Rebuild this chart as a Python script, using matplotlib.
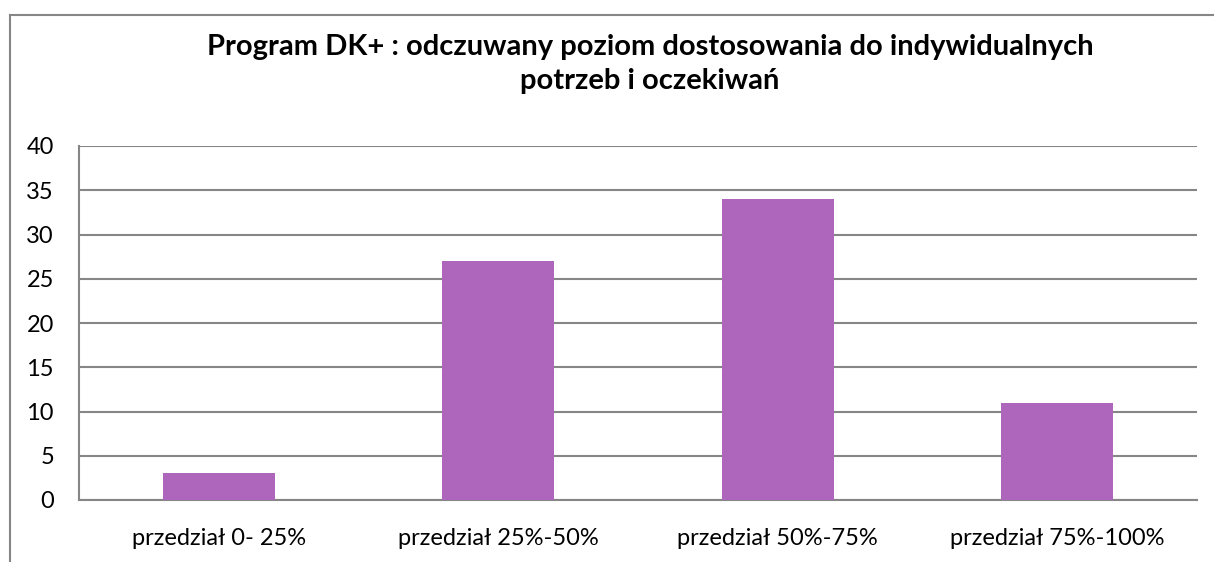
import matplotlib
matplotlib.use("Agg")
import matplotlib.pyplot as plt
from matplotlib.lines import Line2D

# Chart data
categories = ['przedział 0- 25%', 'przedział 25%-50%', 'przedział 50%-75%', 'przedział 75%-100%']
values = [3, 27, 34, 11]
y_ticks = [0, 5, 10, 15, 20, 25, 30, 35, 40]
title = 'Program DK+ : odczuwany poziom dostosowania do indywidualnych\npotrzeb i oczekiwań'

plt.rcParams['font.family'] = ['Lato', 'DejaVu Sans']

W, H = 1214, 562
fig = plt.figure(figsize=(W / 100, H / 100), dpi=100)
fig.patch.set_facecolor('white')

# plot area in pixels: left 79, right 1197, top 146, bottom 500
ax = fig.add_axes([79 / W, 1 - 500 / H, (1197 - 79) / W, (500 - 146) / H])

x = range(len(categories))
ax.bar(x, values, width=0.4, color='#AD66BB', zorder=3)
ax.set_xlim(-0.5, len(categories) - 0.5)
ax.set_ylim(0, 40)
ax.set_yticks(y_ticks)
ax.set_xticks(list(x))
ax.set_xticklabels(categories)

grid_color = '#868686'
ax.yaxis.grid(True, color=grid_color, linewidth=1.5, zorder=0)
ax.set_axisbelow(True)
for side in ['top', 'right']:
    ax.spines[side].set_visible(False)
for side in ['left', 'bottom']:
    ax.spines[side].set_color(grid_color)
    ax.spines[side].set_linewidth(1.5)
ax.tick_params(axis='both', length=0, labelsize=17, colors='black')
ax.tick_params(axis='y', pad=18)
ax.tick_params(axis='x', pad=20)

fig.text(650 / W, 1 - 64 / H, title, ha='center', va='center', fontsize=21,
         fontweight='bold', linespacing=1.4)

# outer chart frame (only left and top edges visible in the crop)
fig.add_artist(Line2D([10 / W, 10 / W], [0, 1 - 15 / H], color=grid_color, linewidth=1.5))
fig.add_artist(Line2D([10 / W, 1], [1 - 15 / H, 1 - 15 / H], color=grid_color, linewidth=1.5))

fig.savefig('out.png', dpi=100, facecolor='white')
